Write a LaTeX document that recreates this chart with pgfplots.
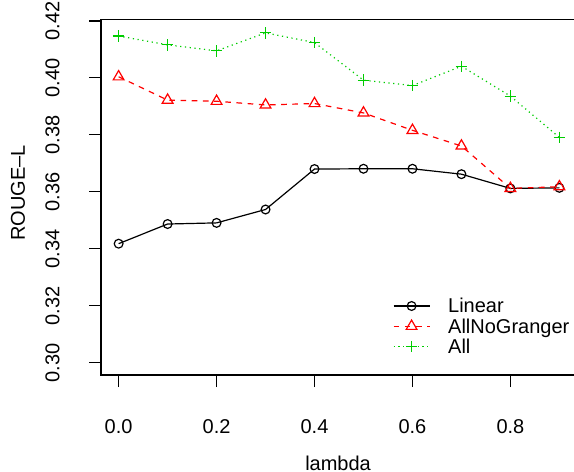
\documentclass[border=0pt]{standalone}
\usepackage{fontspec}
\setmainfont{Liberation Sans}
\usepackage{pgfplots}
\pgfplotsset{compat=1.18}
\definecolor{rgreen}{HTML}{00CD00}
\definecolor{rred}{HTML}{FF0000}

\begin{document}
\fontsize{10bp}{12bp}\selectfont
\begin{tikzpicture}[font=\fontsize{10bp}{12bp}\selectfont]
% the reference is cropped at the top and right, so is this one
\useasboundingbox (0,0) rectangle (287bp,236bp);
\clip (0,0) rectangle (287bp,236bp);
\begin{axis}[
  at={(50.5bp,48.5bp)}, anchor=south west,
  scale only axis, width=238bp, height=177.75bp,
  xmin=-0.036, xmax=0.936, ymin=0.2957, ymax=0.4205,
  xtick={0,0.2,0.4,0.6,0.8}, ytick={0.30,0.32,0.34,0.36,0.38,0.40,0.42},
  xtick pos=bottom, ytick pos=left, tick align=outside,
  major tick length=6bp, scaled ticks=false,
  axis line style={line width=0.6bp}, every tick/.style={black, line width=0.6bp},
  /pgf/number format/assume math mode=true,
  /pgf/number format/.cd, fixed, fixed zerofill, /pgfplots/.cd,
  xticklabel style={/pgf/number format/precision=1, anchor=north, inner sep=0pt, inner ysep=15.85bp},
  yticklabel style={/pgf/number format/precision=2, rotate=90, anchor=south, inner sep=0pt, inner ysep=14.5bp},
  xlabel={lambda}, ylabel={ROUGE--L},
  xlabel style={at={(rel axis cs:0.498,0)}, anchor=base, inner sep=0pt, yshift=-47.5bp},
  ylabel style={at={(rel axis cs:-0.1597,0.512)}, anchor=base, inner sep=0pt, rotate=0},
  legend cell align=left,
  legend style={draw=none, fill=none, at={(rel axis cs:0.6134,0.1370)}, anchor=west,
    inner sep=0pt, outer sep=0pt, row sep=3.15bp, column sep=9bp,
    nodes={inner sep=0pt, text height=7bp, text depth=0pt}},
  legend image code/.code={\draw[mark repeat=2,mark phase=2] plot coordinates {(0bp,0bp)(9bp,0bp)(18bp,0bp)};},
]
\addplot[black, line width=0.6bp, mark=o, mark size=2.2bp] coordinates {
 (0,0.3418)(0.1,0.3487)(0.2,0.3491)(0.3,0.3538)(0.4,0.3680)
 (0.5,0.3681)(0.6,0.3681)(0.7,0.3662)(0.8,0.3612)(0.9,0.3614)};
\addlegendentry{Linear}
\addplot[rred, line width=0.6bp, dash pattern=on 2.8bp off 2.8bp, mark=triangle, mark size=3.1bp, mark options={solid}] coordinates {
 (0,0.4004)(0.1,0.3922)(0.2,0.3918)(0.3,0.3905)(0.4,0.3910)
 (0.5,0.3877)(0.6,0.3816)(0.7,0.3761)(0.8,0.3612)(0.9,0.3618)};
\addlegendentry{AllNoGranger}
\addplot[rgreen, line width=0.6bp, dash pattern=on 0.6bp off 1.8bp, mark=+, mark size=2.85bp, mark options={solid}] coordinates {
 (0,0.4147)(0.1,0.4116)(0.2,0.4095)(0.3,0.4158)(0.4,0.4124)
 (0.5,0.3992)(0.6,0.3973)(0.7,0.4041)(0.8,0.3936)(0.9,0.3791)};
\addlegendentry{All}
\end{axis}
\end{tikzpicture}
\end{document}
